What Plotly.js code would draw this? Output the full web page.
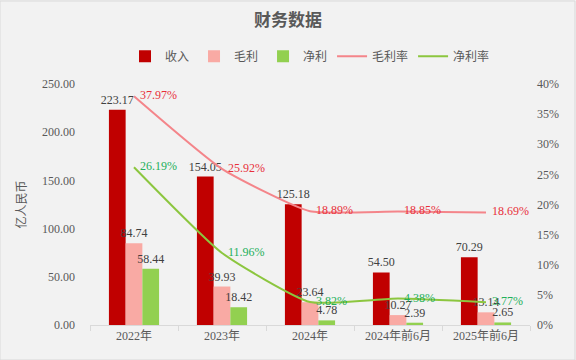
<!DOCTYPE html>
<html><head><meta charset="utf-8">
<script src="https://cdn.plot.ly/plotly-3.0.1.min.js"></script>
<style>body{margin:0;background:#f2f2f2}#c{width:576px;height:360px}</style>
</head><body><div id="c"></div>
<script>
const categories = ["2022年","2023年","2024年","2024年前6月","2025年前6月"];
const revenue = [223.17,154.05,125.18,54.50,70.29];
const grossProfit = [84.74,39.93,23.64,10.27,13.14];
const netProfit = [58.44,18.42,4.78,2.39,2.65];
const grossMargin = [37.97,25.92,18.89,18.85,18.69];
const netMargin = [26.19,11.96,3.82,4.38,3.77];
const leftTicks = [0,50,100,150,200,250];
const rightTicks = [0,5,10,15,20,25,30,35,40];

const serif = "Times New Roman, Liberation Serif, Noto Sans CJK SC, serif";
const lblFont = {family: serif, size: 12, color: "#404040"};
const pad = "\u00a0\u00a0";

function barTrace(name, y, color){
  return {type:"bar", name:name, x:categories, y:y, marker:{color:color},
    text:y.map(v=>v.toFixed(2)), textposition:"outside", textfont:lblFont,
    constraintext:"none", cliponaxis:false, hoverinfo:"skip"};
}
const traces = [
  barTrace("收入", revenue, "#c00000"),
  barTrace("毛利", grossProfit, "#f9aaa4"),
  barTrace("净利", netProfit, "#92d050"),
  {type:"scatter", mode:"lines+text", name:"毛利率", x:categories, y:grossMargin, yaxis:"y2",
   line:{color:"#f4858a", width:2, shape:"spline", smoothing:0.5},
   text:grossMargin.map(v=>pad+v.toFixed(2)+"%"), textposition:"middle right",
   textfont:{family:serif, size:12, color:"#e8303a"}, cliponaxis:false},
  {type:"scatter", mode:"lines+text", name:"净利率", x:categories, y:netMargin, yaxis:"y2",
   line:{color:"#8cc63f", width:2, shape:"spline", smoothing:0.5},
   text:netMargin.map(v=>pad+v.toFixed(2)+"%"), textposition:"middle right",
   textfont:{family:serif, size:12, color:"#23b05a"}, cliponaxis:false}
];
const layout = {
  width:576, height:360,
  font:{family:serif, color:"#595959"},
  paper_bgcolor:"#f2f2f2", plot_bgcolor:"#f2f2f2",
  margin:{l:90, r:46, t:84, b:35},
  title:{text:"<b>财务数据</b>", x:0.5, xanchor:"center", y:0.945, yanchor:"middle",
    font:{family:"Noto Sans CJK SC", size:17, color:"#595959"}},
  showlegend:true,
  legend:{orientation:"h", x:0.5, xanchor:"center", y:1.115, yanchor:"middle",
    font:{family:"Noto Sans CJK SC", size:12, color:"#595959"}, bgcolor:"rgba(0,0,0,0)"},
  barmode:"group", bargap:0.43, bargroupgap:0,
  xaxis:{type:"category", showline:true, linecolor:"#d9d9d9", linewidth:1,
    ticks:"outside", tickson:"boundaries", ticklen:5, tickcolor:"#d9d9d9",
    tickfont:{family:serif, size:12, color:"#595959"}, showgrid:false, zeroline:false},
  yaxis:{range:[0,250], tickvals:leftTicks, ticktext:leftTicks.map(v=>v.toFixed(2)),
    showgrid:false, zeroline:false, showline:false, ticks:"", ticklabelstandoff:14,
    tickfont:{family:serif, size:12, color:"#595959"},
    title:{text:"亿人民币", standoff:12, font:{family:"Noto Sans CJK SC", size:12, color:"#595959"}}},
  yaxis2:{range:[0,40], overlaying:"y", side:"right", tickvals:rightTicks,
    ticktext:rightTicks.map(v=>v+"%"), showgrid:false, zeroline:false, showline:false,
    tickfont:{family:serif, size:12, color:"#595959"}, ticklabelstandoff:6},
  shapes:[{type:"rect", xref:"paper", yref:"paper", x0:-90/440, x1:1+45/440, y0:-35/241, y1:1+83/241,
    line:{color:"#d9d9d9", width:1}, fillcolor:"rgba(0,0,0,0)"}]
};
Plotly.newPlot("c", traces, layout, {displayModeBar:false, staticPlot:true});
</script></body></html>
